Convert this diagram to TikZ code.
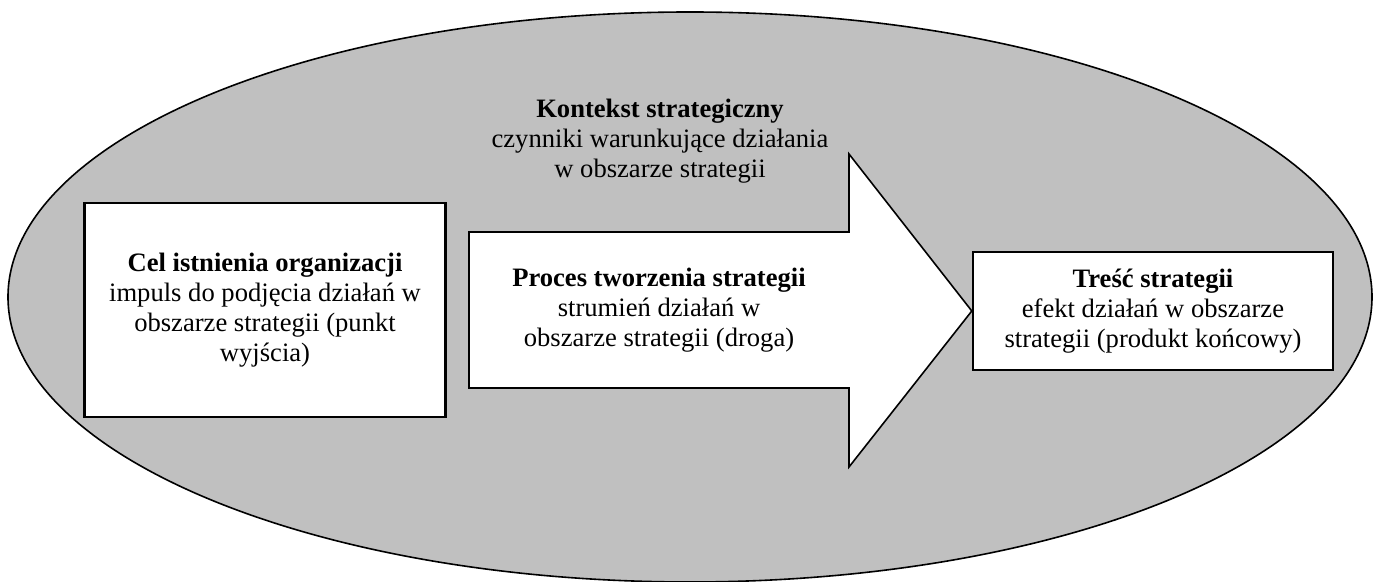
\documentclass[tikz,border=0pt]{standalone}
\usepackage{fontspec}
\setmainfont{Liberation Serif}
\usetikzlibrary{shapes.geometric}
\definecolor{tlo}{RGB}{192,192,192}

\begin{document}
\begin{tikzpicture}[x=0.5pt, y=-0.5pt, font=\fontsize{13.3}{15}\selectfont,
        pole/.style={draw, line width=1.2pt, fill=white, inner sep=0pt, align=center},
        opis/.style={align=center, inner sep=0pt}]
    \useasboundingbox (0,0) rectangle (1373,582);

    % kontekst strategiczny
    \node[draw, ellipse, fill=tlo, line width=0.8pt, minimum width=682pt, minimum height=285pt, inner sep=0pt] (kontekst) at (690,297) {};
    \node[opis] (kontekstopis) at (660,141) {\textbf{Kontekst strategiczny}\\ czynniki warunkujące działania\\ w obszarze strategii};

    % punkt wyjścia i produkt końcowy
    \node[pole, minimum width=180.5pt, minimum height=107pt] (cel) at (265,310) {\textbf{Cel istnienia organizacji}\\ impuls do podjęcia działań w\\ obszarze strategii (punkt\\ wyjścia)};
    \node[pole, minimum width=180pt, minimum height=59pt] (tresc) at (1153,311) {\textbf{Treść strategii}\\ efekt działań w obszarze\\ strategii (produkt końcowy)};

    % strzałka procesu
    \draw[line width=0.8pt, fill=white] (469,232) -- (849,232) -- (849,154) -- (tresc.west) -- (849,467) -- (849,388) -- (469,388) -- cycle;
    \node[opis] (proces) at (659,310) {\textbf{Proces tworzenia strategii}\\ strumień działań w\\ obszarze strategii (droga)};
\end{tikzpicture}
\end{document}
